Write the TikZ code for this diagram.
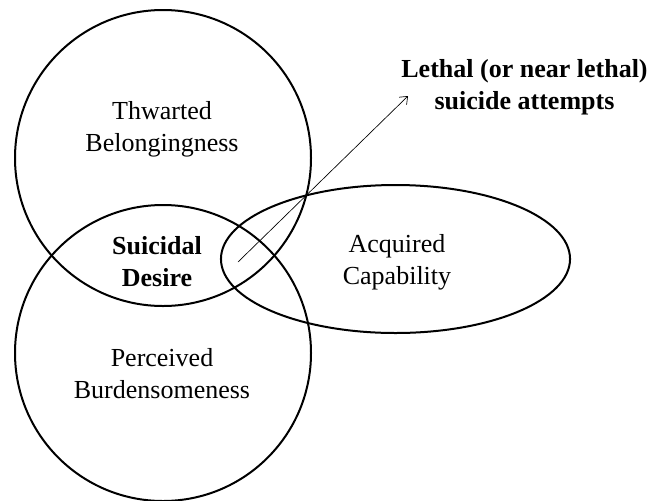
\documentclass[tikz,border=0pt]{standalone}
\usepackage{fontspec}
\setmainfont{Liberation Serif}
\usetikzlibrary{arrows.meta}

\tikzset{
    ring/.style={line width=1.5pt},
    term/.style={align=center, font=\fontsize{19.5}{24}\selectfont},
    keyterm/.style={term, font=\fontsize{19.5}{24}\selectfont\bfseries}
}

\begin{document}
\begin{tikzpicture}[x=0.75pt,y=-0.75pt]

\useasboundingbox (0,0) rectangle (652,500);

% Thwarted belongingness
\draw[ring] (163,158) circle[radius=111pt];
\node[term] (belong) at (162,129) {Thwarted\\Belongingness};

% Perceived burdensomeness
\draw[ring] (163,353) circle[radius=111pt];
\node[term] (burden) at (162,374) {Perceived\\Burdensomeness};

% Acquired capability
\draw[ring] (395.5,259) ellipse[x radius=130.9pt, y radius=55.5pt];
\node[term] (capab) at (397,262) {Acquired\\Capability};

% Overlap
\node[keyterm] (desire) at (157,262) {Suicidal\\Desire};

% Outcome
\node[keyterm] (lethal) at (524.5,87) {Lethal (or near lethal)\\suicide attempts};
\coordinate (from) at (238,262);
\coordinate (to) at (408,96);
\draw[line width=0.5pt, -{Straight Barb[length=5pt,width=8pt]}] (from) -- (to);

\end{tikzpicture}
\end{document}
